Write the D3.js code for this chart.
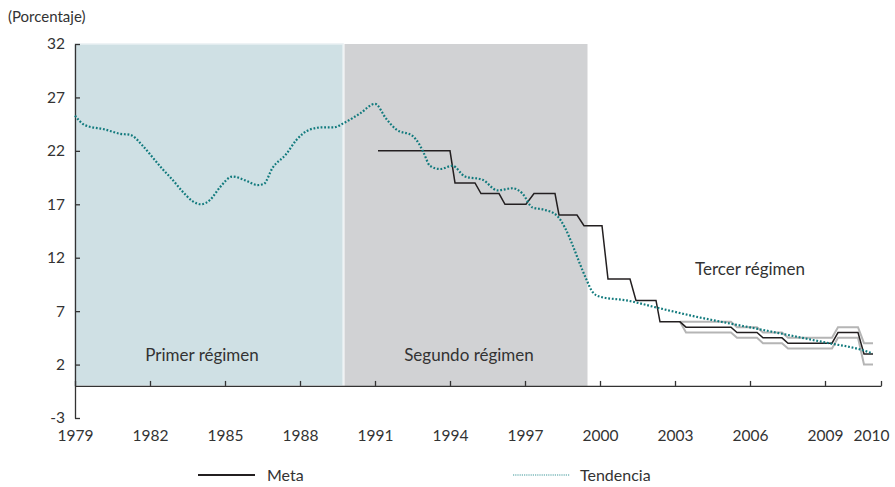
<!DOCTYPE html>
<html>
<head>
<meta charset="utf-8">
<title>Meta de inflación y tendencia</title>
<script src="https://d3js.org/d3.v7.min.js"></script>
<style>
  body { margin: 0; background: #fff; }
  svg text { font-family: Lato, "Open Sans", sans-serif; fill: #333; }
</style>
</head>
<body>
<svg id="chart" width="895" height="487"></svg>
<script>
// regimenes (años decimales)
var regimeNames = ["Primer régimen", "Segundo régimen", "Tercer régimen"];
var regimeStart = [1979, 1989.78, 1999.5];
var regimeEnd = [1989.72, 1999.5, 2011.24];
var regimeFill = ["#cfe0e4", "#d1d2d4", null];

// meta de inflación: tramos
var metaStart = [1991.12, 1994.2, 1995.24, 1996.2, 1997.36, 1998.36, 1999.36, 2000.32, 2001.44, 2002.4, 2003.44, 2005.48, 2006.52, 2007.52, 2009.52, 2010.56];
var metaEnd   = [1994.0, 1995.0, 1995.96, 1997.04, 1998.2, 1999.08, 2000.08, 2001.2, 2002.24, 2003.2, 2005.24, 2006.28, 2007.28, 2009.28, 2010.32, 2010.92];
var metaValue = [22, 19, 18, 17, 18, 16, 15, 10, 8, 6, 5.5, 5, 4.5, 4, 5, 3];
var rangeLow  = [null, null, null, null, null, null, null, null, null, null, 5, 4.5, 4, 3.5, 4.5, 2];
var rangeHigh = [null, null, null, null, null, null, null, null, null, null, 6, 5.5, 5, 4.5, 5.5, 4];

// tendencia
var tendYear = [1979.0, 1979.4, 1980.2, 1980.8, 1981.2, 1981.7, 1982.1, 1982.5, 1982.9, 1983.3, 1983.7, 1984.05, 1984.4, 1984.8, 1985.3, 1985.85, 1986.3, 1986.55, 1986.9, 1987.45, 1987.85, 1988.4, 1988.9, 1989.35, 1989.75, 1990.4, 1991.0, 1991.45, 1991.85, 1992.5, 1992.75, 1992.95, 1993.2, 1993.6, 1994.1, 1994.6, 1995.3, 1995.9, 1996.5, 1996.9, 1997.3, 1997.75, 1998.25, 1998.6, 1998.9, 1999.15, 1999.45, 1999.7, 2000.0, 2001.07, 2002.4, 2003.73, 2005.07, 2006.4, 2007.73, 2009.07, 2010.4, 2010.9];
var tendValue = [25.3, 24.4, 24.0, 23.6, 23.5, 22.5, 21.4, 20.3, 19.3, 18.2, 17.3, 17.0, 17.4, 18.6, 19.6, 19.2, 18.8, 18.9, 20.4, 21.7, 23.0, 24.0, 24.2, 24.2, 24.6, 25.5, 26.4, 25.0, 24.0, 23.4, 22.7, 21.8, 20.6, 20.3, 20.6, 19.6, 19.3, 18.3, 18.5, 18.0, 16.7, 16.5, 16.0, 14.8, 13.2, 11.7, 10.0, 8.8, 8.35, 8.0, 7.26, 6.54, 5.9, 5.3, 4.67, 4.04, 3.42, 3.05];

// ejes
var xTickYears = [1979, 1982, 1985, 1988, 1991, 1994, 1997, 2000, 2003, 2006, 2009, 2011.24];
var xTickLabels = ["1979", "1982", "1985", "1988", "1991", "1994", "1997", "2000", "2003", "2006", "2009", "2010"];
var yTicks = [-3, 2, 7, 12, 17, 22, 27, 32];

var svg = d3.select("#chart");

var x = d3.scaleLinear().domain([1979, 2011.24]).range([75, 881]);
var y = d3.scaleLinear().domain([-3, 32]).range([418, 44]);

// zonas de regimen
regimeNames.forEach(function(name, i) {
    if (!regimeFill[i]) return;
    svg.append("rect")
        .attr("x", x(regimeStart[i]))
        .attr("y", y(32))
        .attr("width", x(regimeEnd[i]) - x(regimeStart[i]))
        .attr("height", y(0) - y(32))
        .attr("fill", regimeFill[i])
        .attr("stroke", i == 0 ? "#e9f0f2" : "none")
        .attr("stroke-width", 1.5);
});

// textos de regimen
var labelAt = [[1984.08, 2.3], [1994.76, 2.3], [2006.0, 10.4]];
regimeNames.forEach(function(name, i) {
    svg.append("text")
        .attr("x", x(labelAt[i][0]))
        .attr("y", y(labelAt[i][1]))
        .attr("text-anchor", "middle")
        .style("font-size", "17px")
        .text(name);
});

// ejes
var xAxis = d3.axisBottom(x)
    .tickValues(xTickYears)
    .tickFormat(function(d, i) { return xTickLabels[i]; })
    .tickSizeInner(-5)
    .tickSizeOuter(0)
    .tickPadding(44);

var gx = svg.append("g")
    .attr("transform", "translate(0," + y(0) + ")")
    .call(xAxis);
gx.selectAll("text").style("font-size", "15.5px").attr("fill", "#333")
    .attr("dx", function(d, i) { return i == xTickYears.length - 1 ? -10 : 0; });

var yAxis = d3.axisLeft(y)
    .tickValues(yTicks)
    .tickFormat(function(d) { return String(d); })
    .tickSizeInner(-5)
    .tickSizeOuter(0)
    .tickPadding(10);

var gy = svg.append("g")
    .attr("transform", "translate(75,0)")
    .call(yAxis);
gy.selectAll("text").style("font-size", "15.5px").attr("fill", "#333");

svg.selectAll(".domain, .tick line").attr("stroke", "#333").attr("stroke-width", 1.3);

// banda de la meta
var bandStart = rangeLow.findIndex(function(d) { return d != null; });
function bandPoints(vals) {
    var pts = [[metaEnd[bandStart - 1], metaValue[bandStart - 1]]];
    for (var i = bandStart; i < vals.length; i++) {
        pts.push([metaStart[i], vals[i]]);
        pts.push([metaEnd[i], vals[i]]);
    }
    return pts;
}

var line = d3.line()
    .x(function(d) { return x(d[0]); })
    .y(function(d) { return y(d[1]); });

[rangeLow, rangeHigh].forEach(function(vals) {
    svg.append("path")
        .attr("d", line(bandPoints(vals)))
        .attr("fill", "none")
        .attr("stroke", "#b5b5b5")
        .attr("stroke-width", 2);
});

// meta
var metaPts = [];
metaValue.forEach(function(v, i) {
    metaPts.push([metaStart[i], v]);
    metaPts.push([metaEnd[i], v]);
});
svg.append("path")
    .attr("d", line(metaPts))
    .attr("fill", "none")
    .attr("stroke", "#231f20")
    .attr("stroke-width", 1.5);

// tendencia
var tendLine = d3.line()
    .x(function(d) { return x(d[0]); })
    .y(function(d) { return y(d[1]); })
    .curve(d3.curveMonotoneX);

svg.append("path")
    .attr("d", tendLine(d3.zip(tendYear, tendValue)))
    .attr("fill", "none")
    .attr("stroke", "#117a7d")
    .attr("stroke-width", 2.2)
    .attr("stroke-dasharray", "1.8,1.8");

// titulo del eje
svg.append("text")
    .attr("x", 8)
    .attr("y", 22)
    .style("font-size", "15px")
    .text("(Porcentaje)");

// leyenda
var legend = svg.append("g");
legend.append("line")
    .attr("x1", 198).attr("x2", 255).attr("y1", 475).attr("y2", 475)
    .attr("stroke", "#231f20").attr("stroke-width", 2);
legend.append("text")
    .attr("x", 267).attr("y", 481)
    .style("font-size", "16px")
    .text("Meta");
legend.append("line")
    .attr("x1", 513).attr("x2", 570).attr("y1", 475).attr("y2", 475)
    .attr("stroke", "#3c9799").attr("stroke-width", 1.2)
    .attr("stroke-dasharray", "1.2,1");
legend.append("text")
    .attr("x", 580).attr("y", 481)
    .style("font-size", "16px")
    .text("Tendencia");
</script>
</body>
</html>
